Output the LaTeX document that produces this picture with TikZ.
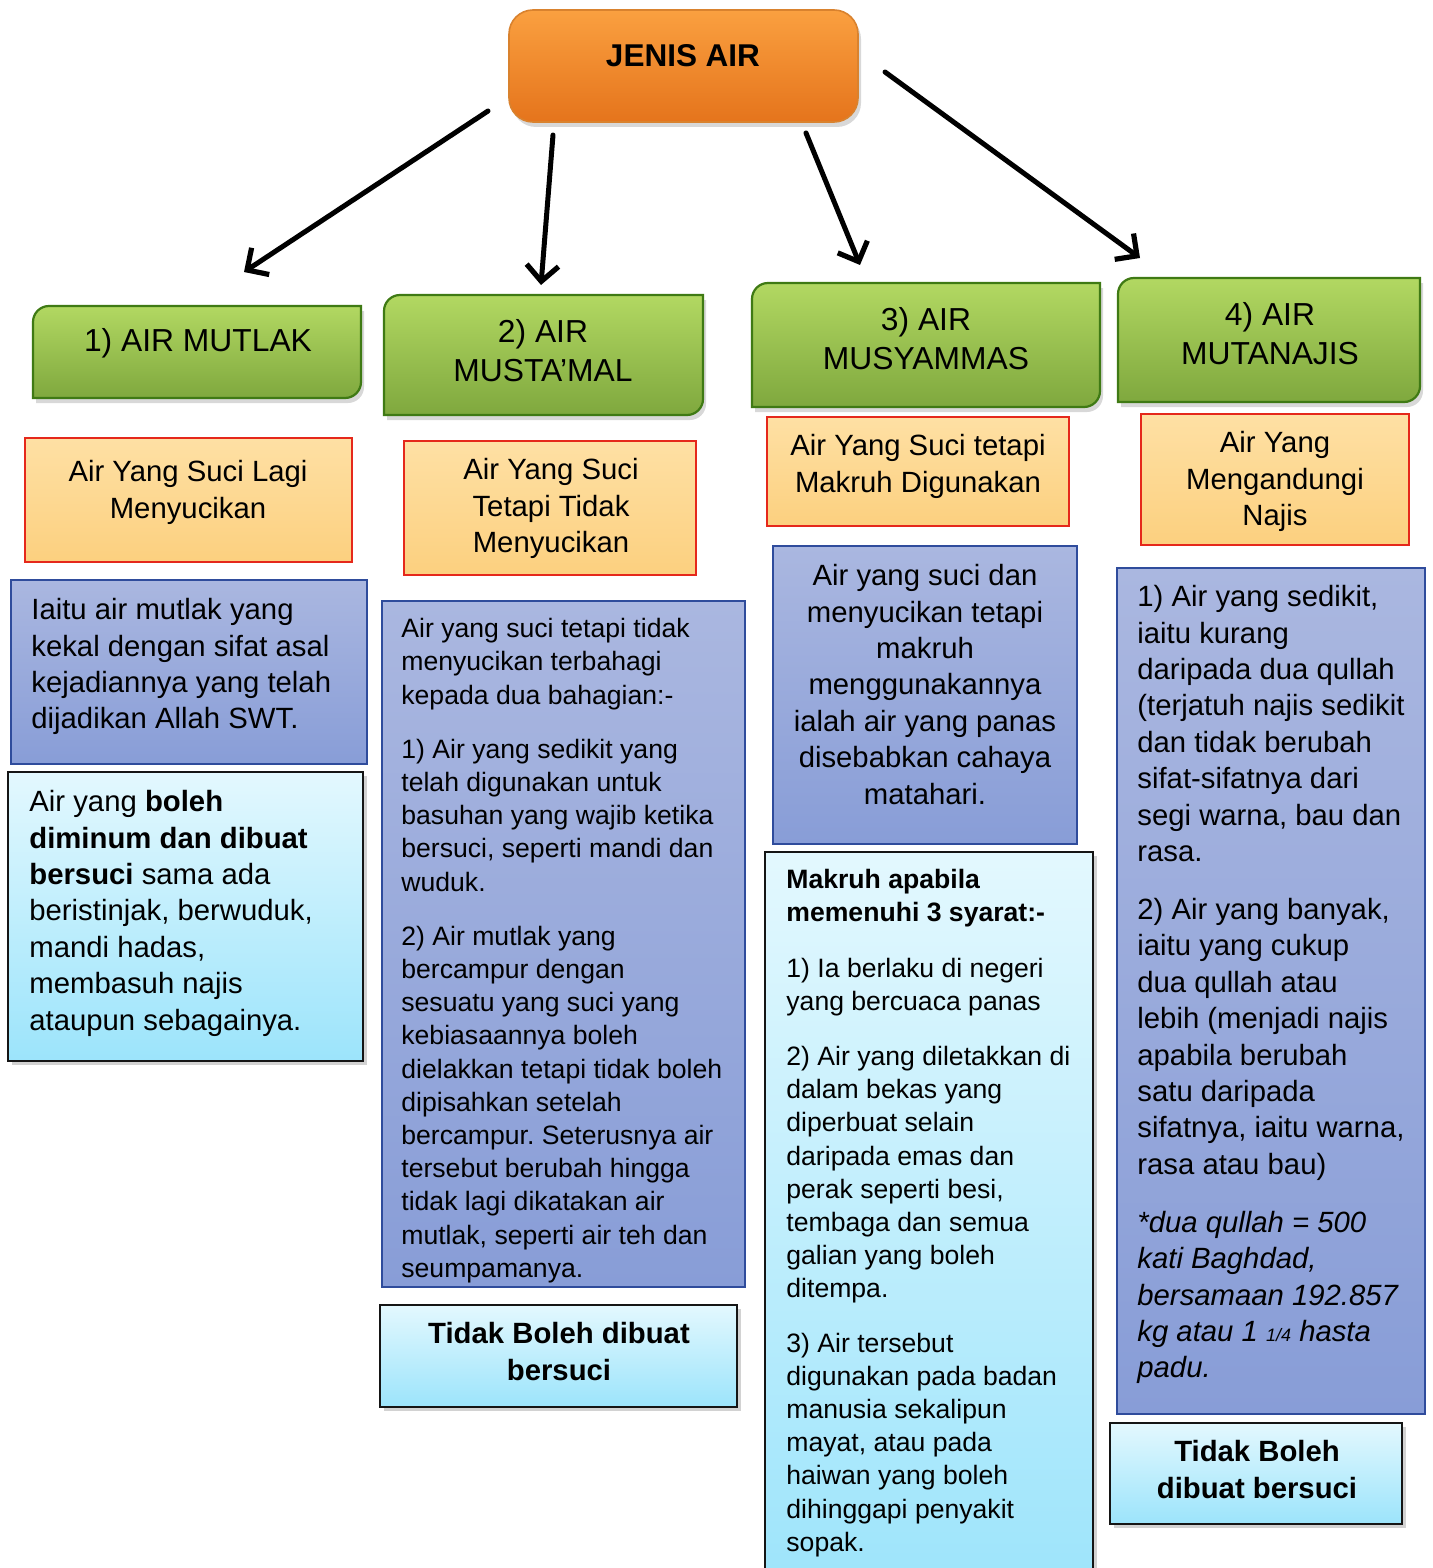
\documentclass[tikz,border=0pt]{standalone}
\usepackage{fontspec}
\setmainfont{Liberation Sans}
\usetikzlibrary{arrows.meta,shadows,fit}
\definecolor{jT}{HTML}{FAA040}
\definecolor{jB}{HTML}{E5741C}
\definecolor{jD}{HTML}{D9822E}
\definecolor{gT}{HTML}{B2D862}
\definecolor{gB}{HTML}{7FA83E}
\definecolor{gD}{HTML}{3F7A14}
\definecolor{oT}{HTML}{FEE0A4}
\definecolor{oB}{HTML}{FCD07F}
\definecolor{oD}{HTML}{E5281B}
\definecolor{bT}{HTML}{AAB7E0}
\definecolor{bB}{HTML}{889DD7}
\definecolor{bD}{HTML}{2F4C9C}
\definecolor{cT}{HTML}{E3F8FE}
\definecolor{cB}{HTML}{9CE4FB}
\definecolor{cD}{HTML}{151515}
\newcommand\FntA{\fontsize{14.65pt}{18.2pt}\selectfont}
\newcommand\FntB{\fontsize{13.3pt}{16.6pt}\selectfont}
\newcommand\FntH{\fontsize{15.9pt}{19.6pt}\selectfont}
\newcommand\GreenBox[5]{%
  \draw[greenbox] (#2,-#5) -- (#2,{-#3-16}) arc[start angle=180,end angle=90,radius=16]
    -- (#4,-#3) -- (#4,{-#5+16}) arc[start angle=0,end angle=-90,radius=16] -- cycle;
  \node[fit={(#2,-#3) (#4,-#5)}, inner sep=0pt] (#1) {};}
\frenchspacing
\begin{document}
\begin{tikzpicture}[x=0.5pt,y=0.5pt,
  greenbox/.style={draw=gD, line width=1.1pt, top color=gT, bottom color=gB,
    drop shadow={shadow xshift=1.5pt, shadow yshift=-2.5pt, opacity=0.3}},
  jbox/.style={draw=jD, line width=0.8pt, top color=jT, bottom color=jB,
    rounded corners=12pt, inner sep=0pt,
    drop shadow={shadow xshift=1.5pt, shadow yshift=-2.5pt, opacity=0.3}},
  obox/.style={draw=oD, line width=0.9pt, top color=oT, bottom color=oB, inner sep=0pt},
  bbox/.style={draw=bD, line width=0.8pt, top color=bT, bottom color=bB, inner sep=0pt},
  cbox/.style={draw=cD, line width=1.3pt, top color=cT, bottom color=cB, inner sep=0pt,
    drop shadow={shadow xshift=2pt, shadow yshift=-2pt, opacity=0.35}},
  txt/.style={inner sep=0pt, align=left, text=black},
  ctxt/.style={inner sep=0pt, align=center, text=black},
  arr/.style={line width=2.5pt, line cap=round,
    -{Straight Barb[length=8pt,width=16pt,line width=2.6pt]}}]
\useasboundingbox (0,0) rectangle (1432,-1568);
\clip (0,0) rectangle (1432,-1568);
\fill[white] (0,0) rectangle (1432,-1568);

% top node
\node[jbox, fit={(509,-10) (858,-122)}] (jenis) {};
\node[ctxt, font=\bfseries\fontsize{15.75pt}{19pt}\selectfont] (jt) at (683,-56) {JENIS AIR};

% green headers
\GreenBox{g1}{33}{306}{361}{398}
\GreenBox{g2}{384}{295}{703}{415}
\GreenBox{g3}{752}{283}{1100}{407}
\GreenBox{g4}{1118}{278}{1420}{402}
\node[ctxt, font=\FntH, anchor=north] (g1t) at (198,-328) {1) AIR MUTLAK};
\node[ctxt, font=\FntH, anchor=north] (g2t) at (543,-319) {2) AIR\\MUSTA’MAL};
\node[ctxt, font=\FntH, anchor=north] (g3t) at (926,-307) {3) AIR\\MUSYAMMAS};
\node[ctxt, font=\FntH, anchor=north] (g4t) at (1270,-302) {4) AIR\\MUTANAJIS};

% arrows
\coordinate (s1) at (488,-111); \coordinate (e1) at (244,-272);
\coordinate (s2) at (553,-135); \coordinate (e2) at (541,-285);
\coordinate (s3) at (806,-133); \coordinate (e3) at (860,-265);
\coordinate (s4) at (885,-72);  \coordinate (e4) at (1140,-258);
\draw[arr] (s1) -- (e1);
\draw[arr] (s2) -- (e2);
\draw[arr] (s3) -- (e3);
\draw[arr] (s4) -- (e4);

% orange boxes
\node[obox, fit={(25,-438) (352,-562)}] (o1) {};
\node[obox, fit={(404,-441) (696,-575)}] (o2) {};
\node[obox, fit={(767,-417) (1069,-526)}] (o3) {};
\node[obox, fit={(1141,-414) (1409,-545)}] (o4) {};
\node[ctxt, font=\FntA, anchor=north] (o1t) at (188,-460) {Air Yang Suci Lagi\\Menyucikan};
\node[ctxt, font=\FntA, anchor=north] (o2t) at (551,-458) {Air Yang Suci\\Tetapi Tidak\\Menyucikan};
\node[ctxt, font=\FntA, anchor=north] (o3t) at (918,-434) {Air Yang Suci tetapi\\Makruh Digunakan};
\node[ctxt, font=\FntA, anchor=north] (o4t) at (1275,-431) {Air Yang\\Mengandungi\\Najis};

% blue boxes
\node[bbox, fit={(11,-580) (367,-764)}] (b1) {};
\node[bbox, fit={(382,-601) (745,-1287)}] (b2) {};
\node[bbox, fit={(773,-546) (1077,-844)}] (b3) {};
\node[bbox, fit={(1117,-568) (1425,-1414)}] (b4) {};
\node[txt, font=\FntA, anchor=north west] (b1t) at (31,-598)
  {Iaitu air mutlak yang\\kekal dengan sifat asal\\kejadiannya yang telah\\dijadikan Allah SWT.};
\begin{scope}
\clip (382,-601) rectangle (745,-1284);
\node[txt, font=\FntB, anchor=north west] (b2t) at (401,-618)
  {Air yang suci tetapi tidak\\menyucikan terbahagi\\kepada dua bahagian:-\\[10.5pt]
   1) Air yang sedikit yang\\telah digunakan untuk\\basuhan yang wajib ketika\\bersuci, seperti mandi dan\\wuduk.\\[10.5pt]
   2) Air mutlak yang\\bercampur dengan\\sesuatu yang suci yang\\kebiasaannya boleh\\dielakkan tetapi tidak boleh\\dipisahkan setelah\\bercampur. Seterusnya air\\tersebut berubah hingga\\tidak lagi dikatakan air\\mutlak, seperti air teh dan\\seumpamanya.};
\end{scope}
\node[ctxt, font=\FntA, anchor=north] (b3t) at (925,-564)
  {Air yang suci dan\\menyucikan tetapi\\makruh\\menggunakannya\\ialah air yang panas\\disebabkan cahaya\\matahari.};
\node[txt, font=\FntA, anchor=north west] (b4t) at (1137,-585)
  {1) Air yang sedikit,\\iaitu kurang\\daripada dua qullah\\(terjatuh najis sedikit\\dan tidak berubah\\sifat-sifatnya dari\\segi warna, bau dan\\rasa.\\[10.8pt]
   2) Air yang banyak,\\iaitu yang cukup\\dua qullah atau\\lebih (menjadi najis\\apabila berubah\\satu daripada\\sifatnya, iaitu warna,\\rasa atau bau)\\[10.8pt]
   \itshape *dua qullah = 500\\\itshape kati Baghdad,\\\itshape bersamaan 192.857\\\itshape kg atau 1 {\fontsize{9pt}{9pt}\selectfont 1/4} hasta\\\itshape padu.};

% cyan boxes
\node[cbox, fit={(8,-772) (363,-1061)}] (c1) {};
\node[cbox, fit={(380,-1305) (737,-1407)}] (c2) {};
\node[cbox, fit={(765,-852) (1093,-1600)}] (c3) {};
\node[cbox, fit={(1110,-1423) (1402,-1524)}] (c4) {};
\node[txt, font=\FntA, anchor=north west] (c1t) at (29,-790)
  {Air yang \textbf{boleh}\\\textbf{diminum dan dibuat}\\\textbf{bersuci} sama ada\\beristinjak, berwuduk,\\mandi hadas,\\membasuh najis\\ataupun sebagainya.};
\node[ctxt, font=\FntA\bfseries, anchor=north] (c2t) at (559,-1322) {Tidak Boleh dibuat\\bersuci};
\node[txt, font=\FntB, anchor=north west] (c3t) at (786,-869)
  {\textbf{Makruh apabila}\\\textbf{memenuhi 3 syarat:-}\\[11pt]
   1) Ia berlaku di negeri\\yang bercuaca panas\\[11pt]
   2) Air yang diletakkan di\\dalam bekas yang\\diperbuat selain\\daripada emas dan\\perak seperti besi,\\tembaga dan semua\\galian yang boleh\\ditempa.\\[10.5pt]
   3) Air tersebut\\digunakan pada badan\\manusia sekalipun\\mayat, atau pada\\haiwan yang boleh\\dihinggapi penyakit\\sopak.};
\node[ctxt, font=\FntA\bfseries, anchor=north] (c4t) at (1257,-1440) {Tidak Boleh\\dibuat bersuci};
\end{tikzpicture}
\end{document}
